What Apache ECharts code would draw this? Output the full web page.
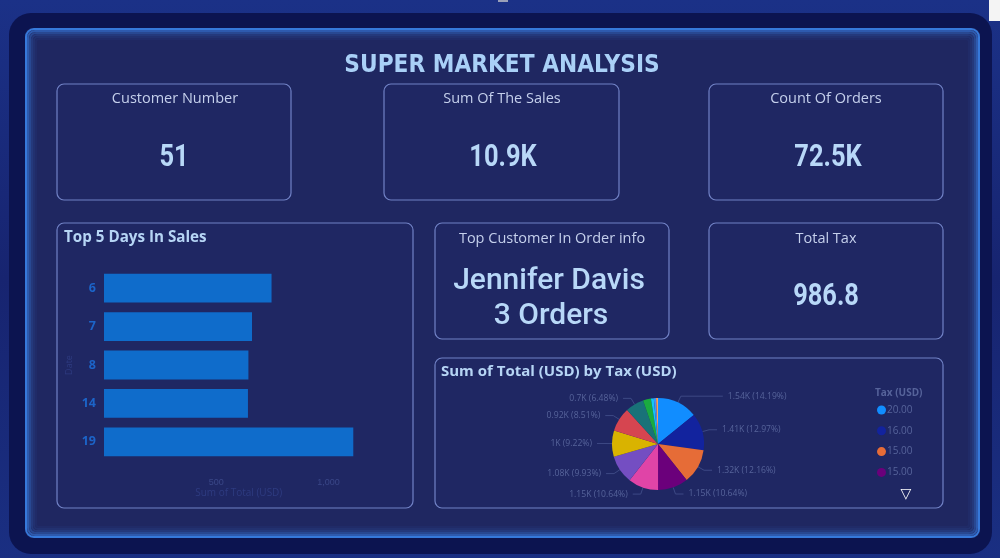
<!DOCTYPE html>
<html>
<head>
<meta charset="utf-8">
<script src="https://cdn.jsdelivr.net/npm/echarts@6/dist/echarts.min.js"></script>
<style>
html,body{margin:0;padding:0;background:#17226b;}
#chart{width:1000px;height:558px;}
</style>
</head>
<body>
<div id="chart"></div>
<script>
// ---- Data ----
const dashboardTitle = 'SUPER MARKET ANALYSIS';
const kpiTitles = ['Customer Number', 'Sum Of The Sales', 'Count Of Orders', 'Total Tax'];
const kpiValues = ['51', '10.9K', '72.5K', '986.8'];
const topCustomerTitle = 'Top Customer In Order info';
const topCustomerName = 'Jennifer Davis';
const topCustomerOrders = '3 Orders';

const barTitle = 'Top 5 Days In Sales';
const barDays = ['6', '7', '8', '14', '19'];
const barSales = [746, 659, 643, 641, 1110];
const barXName = 'Sum of Total (USD)';
const barYName = 'Date';

const pieTitle = 'Sum of Total (USD) by Tax (USD)';
const pieLegendTitle = 'Tax (USD)';
const pieTaxLabels = ['20.00', '16.00', '15.00', '15.00\u200b', '14.00', '13.00', '12.00', '11.00', '10.00', '9.00', '8.00', '7.00', '6.00'];
const pieTotals = [1539, 1407, 1319, 1154, 1154, 1077, 1000, 923, 703, 303, 109, 86, 72];
const pieColors = ['#118DFF', '#12239E', '#E66C37', '#6B007B', '#E044A7', '#744EC2', '#D9B300', '#D64550', '#197278', '#1AAB40', '#15C6F4', '#4092FF', '#FFA058'];

// ---- Chart ----
const chart = echarts.init(document.getElementById('chart'), null, {renderer: 'canvas'});

const cardStroke = '#7182c6';
const cardFill = '#1f2763';
const titleFont = '"DejaVu Sans", sans-serif';
const kpiFont = 'Roboto, sans-serif';
const labelFont = '"Open Sans", sans-serif';

function card(x, y, w, h) {
  return {type: 'rect', shape: {x: x, y: y, width: w, height: h, r: 7},
    style: {fill: cardFill, stroke: cardStroke, lineWidth: 1.2}, z: 1};
}
function txt(x, y, text, size, color, weight, font, align, sx) {
  return {type: 'text', x: x, y: y, z: 1, scaleX: sx || 1,
    style: {text: text, fontSize: size, fill: color, fontWeight: weight || 'normal',
      fontFamily: font || labelFont, align: align || 'center', verticalAlign: 'middle'}};
}

const glow = [];
const glowAlphas = [0.95, 0.6, 0.38, 0.22, 0.12, 0.06];
glowAlphas.forEach(function (a, i) {
  glow.push({type: 'rect', z: 0,
    shape: {x: 25 + i * 2 + 1, y: 28 + i * 2 + 1, width: 955 - i * 4 - 2, height: 510 - i * 4 - 2, r: Math.max(8 - i, 2)},
    style: {fill: 'none', stroke: 'rgba(56,125,225,' + a + ')', lineWidth: 2}});
});

const graphics = [
  {type: 'rect', z: 0, shape: {x: 0, y: 0, width: 1000, height: 558},
    style: {fill: new echarts.graphic.LinearGradient(0, 0, 0, 1, [
      {offset: 0, color: '#1b3187'}, {offset: 0.5, color: '#172470'}, {offset: 1, color: '#1a2f82'}])}},
  {type: 'rect', z: 0, shape: {x: 9, y: 13, width: 983, height: 541, r: 22},
    style: {fill: '#0c1450'}},
  {type: 'rect', z: 0, shape: {x: 25, y: 28, width: 955, height: 510, r: 8},
    style: {fill: '#1f2761'}},
  ...glow,
  {type: 'rect', z: 1, shape: {x: 989, y: 0, width: 11, height: 21}, style: {fill: '#f4f4f4'}},
  {type: 'rect', z: 1, shape: {x: 498, y: 0, width: 10, height: 2}, style: {fill: '#9aa0b8'}},
  card(57, 84, 234, 116), card(384, 84, 235, 116), card(709, 84, 234, 116),
  card(57, 223, 356, 285), card(435, 223, 234, 116), card(709, 223, 234, 116),
  card(435, 358, 508, 150),
  txt(502, 65, dashboardTitle, 25, '#a9d0f7', 'bold', titleFont, 'center', 0.87),
  txt(175, 99, kpiTitles[0], 14.5, '#c5d0ec'),
  txt(502, 99, kpiTitles[1], 14.5, '#c5d0ec'),
  txt(826, 99, kpiTitles[2], 14.5, '#c5d0ec'),
  txt(826, 239, kpiTitles[3], 14.5, '#c5d0ec'),
  txt(552, 239, topCustomerTitle, 14.5, '#c5d0ec'),
  txt(174, 158, kpiValues[0], 31, '#b8d8f8', 'bold', kpiFont, 'center', 0.82),
  txt(503, 158, kpiValues[1], 31, '#b8d8f8', 'bold', kpiFont, 'center', 0.82),
  txt(828, 158, kpiValues[2], 31, '#b8d8f8', 'bold', kpiFont, 'center', 0.82),
  txt(826, 297, kpiValues[3], 31, '#b8d8f8', 'bold', kpiFont, 'center', 0.82),
  txt(549, 281, topCustomerName, 30, '#b8d8f8', '500', 'Roboto, sans-serif'),
  txt(551, 316, topCustomerOrders, 30, '#b8d8f8', '500', 'Roboto, sans-serif'),
  txt(64, 238, barTitle, 15.2, '#b6d5f5', 'bold', labelFont, 'left'),
  txt(441, 372, pieTitle, 15, '#b6d5f5', 'bold', labelFont, 'left'),
  txt(875, 393, pieLegendTitle, 10, '#56639a', 'bold', labelFont, 'left'),
  txt(906, 494, '\u25BD', 14, '#ffffff', 'bold', '"DejaVu Sans", sans-serif')
];

const option = {
  backgroundColor: 'transparent',
  animation: false,
  graphic: {elements: graphics},
  grid: {left: 104, top: 269, width: 269.5, height: 192, z: 5},
  xAxis: {
    type: 'value', min: 0, max: 1200, interval: 500, z: 5,
    name: barXName, nameLocation: 'middle', nameGap: 27,
    nameTextStyle: {color: '#2e3b80', fontSize: 10, fontFamily: labelFont},
    axisLine: {show: false}, axisTick: {show: false}, splitLine: {show: false},
    axisLabel: {color: '#3a4788', fontSize: 9, margin: 17, showMinLabel: false, showMaxLabel: false,
      formatter: function (v) { return v.toLocaleString('en-US'); }}
  },
  yAxis: {
    type: 'category', data: barDays, inverse: true, z: 5,
    name: barYName, nameLocation: 'middle', nameGap: 30, nameRotate: 90,
    nameTextStyle: {color: '#2e3b80', fontSize: 9, fontFamily: labelFont},
    axisLine: {show: false}, axisTick: {show: false},
    axisLabel: {color: '#1c64c8', fontSize: 12.5, fontWeight: 'bold', margin: 8, fontFamily: labelFont}
  },
  legend: {
    data: pieTaxLabels.slice(0, 4), z: 5,
    orient: 'vertical', left: 872, top: 400, itemGap: 10.8,
    icon: 'circle', itemWidth: 9, itemHeight: 9,
    textStyle: {color: '#56639a', fontSize: 10, fontFamily: labelFont, padding: [0, 0, 0, -4]},
    selectedMode: false
  },
  series: [
    {
      type: 'bar', data: barSales, barWidth: '75%', z: 5,
      itemStyle: {color: '#0f6ccb'}, silent: true
    },
    {
      type: 'pie', center: [658, 444], radius: 46, startAngle: 90, clockwise: true,
      silent: true, z: 5,
      data: pieTotals.map(function (v, i) {
        return {name: pieTaxLabels[i], value: v,
          itemStyle: {color: pieColors[i]},
          label: {show: i < 9},
          labelLine: i === 0 ? {show: true, length: 7, length2: 42} : {show: i < 9}};
      }),
      itemStyle: {borderWidth: 0},
      label: {
        color: '#56639a', fontSize: 8.6, fontFamily: labelFont,
        formatter: function (p) {
          const k = parseFloat((p.value / 1000).toFixed(2));
          return k + 'K (' + p.percent.toFixed(2) + '%)';
        }
      },
      labelLine: {length: 7, length2: 8, lineStyle: {color: '#3d4985', width: 1}}
    }
  ]
};
chart.setOption(option);
</script>
</body>
</html>
